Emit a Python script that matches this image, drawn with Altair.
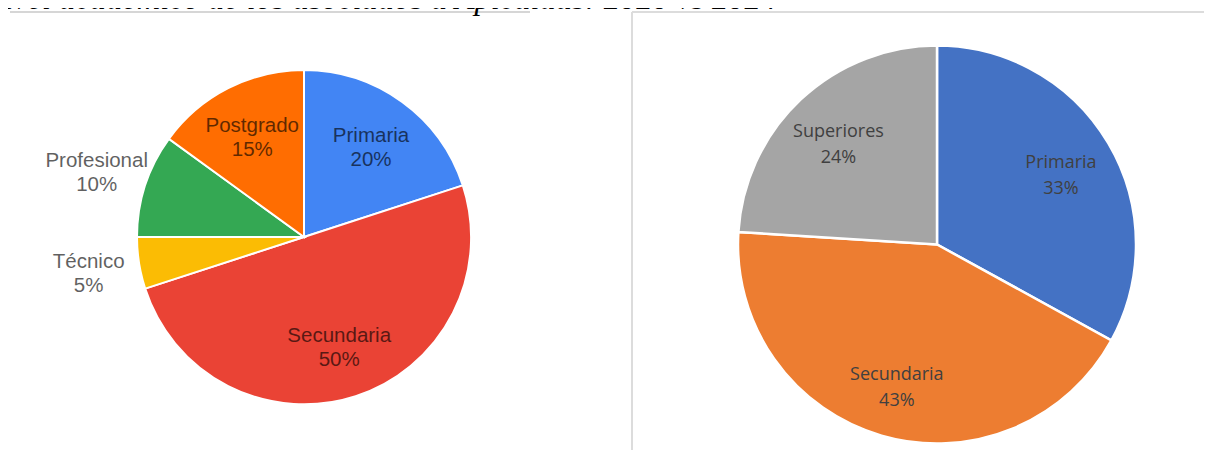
import altair as alt
import pandas as pd

# ---- data ----
left_cats = ["Primaria", "Secundaria", "Técnico", "Profesional", "Postgrado"]
left_vals = [20, 50, 5, 10, 15]
left_colors = ["#4285F4", "#EA4335", "#FBBC04", "#34A853", "#FF6D01"]

right_cats = ["Primaria", "Secundaria", "Superiores"]
right_vals = [33, 43, 24]
right_colors = ["#4472C4", "#ED7D31", "#A5A5A5"]

title_text = "Nivel académico de los asociados a Apicaldas: 2020 vs 2024"

# ---- tables ----
left_df = pd.DataFrame({
    "cat": left_cats, "val": left_vals, "color": left_colors,
    "idx": list(range(len(left_cats))),
})
left_df["label"] = [f"{c}\n{v}%" for c, v in zip(left_cats, left_vals)]
left_df["lr"] = [218 if v < 12 else 114 for v in left_vals]

right_df = pd.DataFrame({
    "cat": right_cats, "val": right_vals, "color": right_colors,
    "idx": list(range(len(right_cats))),
})
right_df["label"] = [f"{c}\n{v}%" for c, v in zip(right_cats, right_vals)]

# pie centres (svg coords; page has 8px margin)
LX, LY, LR = 296, 229, 167
RX, RY, RR = 929, 236.5, 199

theta_scale = alt.Scale(domain=[0, 100])

left_pie = alt.Chart(left_df).mark_arc(
    radius=LR, stroke="white", strokeWidth=2
).encode(
    theta=alt.Theta("val:Q", stack=True, scale=theta_scale),
    order=alt.Order("idx:Q"),
    color=alt.Color("color:N", scale=None),
    x=alt.value(LX), y=alt.value(LY),
)
left_text = alt.Chart(left_df).transform_window(
    cum="sum(val)", sort=[alt.SortField("idx")]
).transform_calculate(
    mid="datum.cum - datum.val / 2"
).mark_text(
    font="Liberation Sans", fontSize=20.5, lineBreak="\n", lineHeight=24,
    color="#000000", opacity=0.62, align="center", baseline="middle", dy=-9,
).encode(
    theta=alt.Theta("mid:Q", stack=None, scale=theta_scale),
    radius=alt.Radius("lr:Q", scale=None),
    text="label:N",
    x=alt.value(LX), y=alt.value(LY),
)

right_pie = alt.Chart(right_df).mark_arc(
    radius=RR, stroke="white", strokeWidth=2.5
).encode(
    theta=alt.Theta("val:Q", stack=True, scale=theta_scale),
    order=alt.Order("idx:Q"),
    color=alt.Color("color:N", scale=None),
    x=alt.value(RX), y=alt.value(RY),
)
right_text = alt.Chart(right_df).transform_window(
    cum="sum(val)", sort=[alt.SortField("idx")]
).transform_calculate(
    mid="datum.cum - datum.val / 2"
).mark_text(
    radius=144, font="Open Sans", fontSize=18, lineBreak="\n", lineHeight=26,
    color="#404040", align="center", baseline="middle", dy=-8,
).encode(
    theta=alt.Theta("mid:Q", stack=None, scale=theta_scale),
    text="label:N",
    x=alt.value(RX), y=alt.value(RY),
)

W, H = 1196, 442

deco = alt.Chart(pd.DataFrame({"k": [0]}))
line_left = deco.mark_rule(color="#d6d6d6", strokeWidth=2).encode(
    x=alt.value(2), x2=alt.value(522), y=alt.value(4))
line_right_top = deco.mark_rule(color="#dcdcdc", strokeWidth=2).encode(
    x=alt.value(624), x2=alt.value(W), y=alt.value(4))
line_right_left = deco.mark_rule(color="#dcdcdc", strokeWidth=2).encode(
    x=alt.value(624), y=alt.value(4), y2=alt.value(H))

title = deco.mark_text(
    font="Liberation Serif", fontStyle="italic", fontSize=32.5,
    align="right", baseline="alphabetic", color="#000000",
).encode(x=alt.value(769), y=alt.value(1), text=alt.value(title_text))

chart = alt.layer(
    line_left, line_right_top, line_right_left,
    left_pie, left_text, right_pie, right_text, title,
).properties(
    width=W, height=H, padding=0, background="white",
    autosize=alt.AutoSizeParams(type="none"),
).configure_view(strokeWidth=0, stroke="transparent")

chart.save("out.html", embed_options={"renderer": "svg", "actions": False})
